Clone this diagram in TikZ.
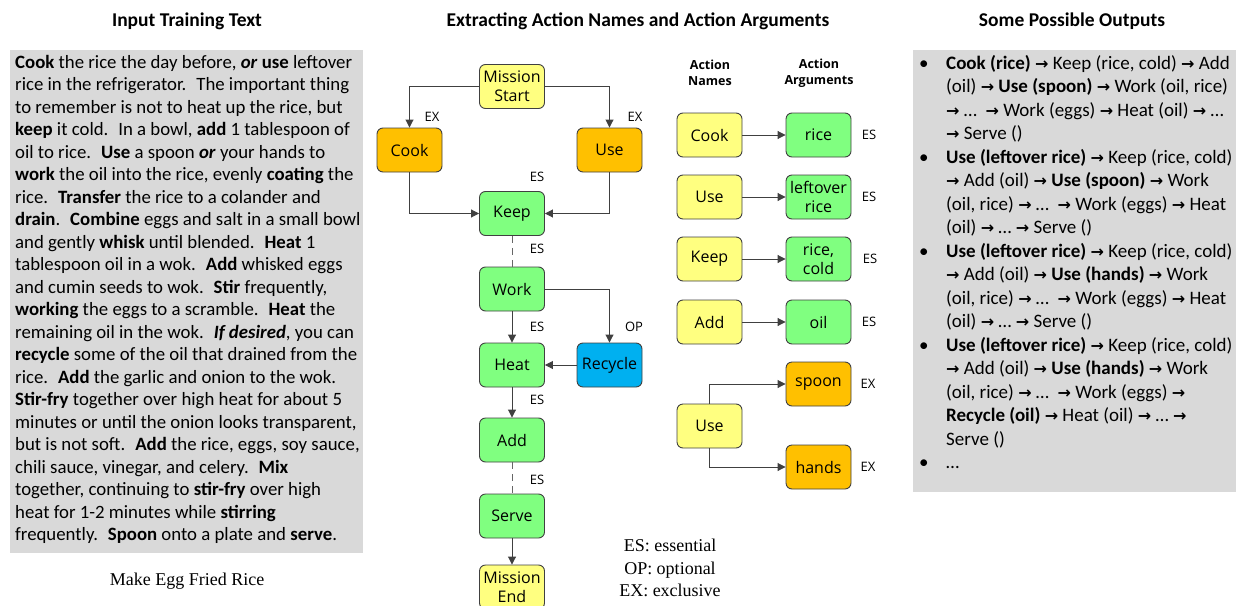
\documentclass[tikz,border=0pt]{standalone}
\usepackage{fontspec}
\setmainfont{Liberation Serif}
\newfontfamily\calfont{Carlito}
\newfontfamily\boxfont{Open Sans}
\newfontfamily\arrowfont{DejaVu Sans}
\usetikzlibrary{arrows.meta}
\newcommand{\rar}{{\arrowfont\bfseries\fontsize{16}{16}\selectfont →}}
\newcommand{\bul}{\makebox[28pt][l]{\hspace*{1pt}•}}
\newcommand{\ind}{\hspace*{28pt}}
\definecolor{boxyellow}{RGB}{255,255,128}
\definecolor{boxorange}{RGB}{255,192,0}
\definecolor{boxgreen}{RGB}{128,255,128}
\definecolor{boxblue}{RGB}{0,176,240}
\definecolor{panelgray}{RGB}{217,217,217}
\definecolor{edgegray}{RGB}{64,64,64}
\tikzset{
  actbox/.style={draw=edgegray, line width=0.9pt, rounded corners=6pt, minimum width=65pt, minimum height=44pt, inner sep=1pt, align=center, font=\boxfont\fontsize{16}{19}\selectfont},
  ybox/.style={actbox, fill=boxyellow},
  obox/.style={actbox, fill=boxorange},
  gbox/.style={actbox, fill=boxgreen},
  bbox/.style={actbox, fill=boxblue},
  tag/.style={inner sep=0.75pt, font=\boxfont\fontsize{13}{15}\selectfont},
  title/.style={font=\calfont\bfseries\fontsize{19.5}{22}\selectfont},
  flow/.style={draw=edgegray, line width=0.9pt, -{Triangle[length=8pt,width=8pt]}},
  dashflow/.style={draw=edgegray!80, line width=0.9pt, dash pattern=on 7pt off 5pt},
}
\begin{document}
\begin{tikzpicture}[x=1pt,y=-1pt]
\useasboundingbox (0,0) rectangle (1236,605);
\clip (0,0) rectangle (1236,605);

% Column titles
\node (ttlInput) at (187,21) [title] {Input Training Text};
\node (ttlExtract) at (638,21) [title] {Extracting Action Names and Action Arguments};
\node (ttlOutput) at (1072,21) [title] {Some Possible Outputs};

%Shape: Rectangle (input text panel)
\fill [panelgray] (10,50) rectangle (363,553);
% Text Node
\node (inputText) at (15,55) [anchor=north west, inner sep=0pt, align=left, font=\calfont\fontsize{18.8}{22.5}\selectfont] {%
\textbf{Cook} the rice the day before, \textbf{\textit{or}} \textbf{use} leftover\\
rice in the refrigerator. \ The important thing\\
to remember is not to heat up the rice, but\\
\textbf{keep} it cold. \ In a bowl, \textbf{add} 1 tablespoon of\\
oil to rice. \ \textbf{Use} a spoon \textbf{\textit{or}} your hands to\\
\textbf{work} the oil into the rice, evenly \textbf{coating} the\\
rice. \ \textbf{Transfer} the rice to a colander and\\
\textbf{drain}. \ \textbf{Combine} eggs and salt in a small bowl\\
and gently \textbf{whisk} until blended. \ \textbf{Heat} 1\\
tablespoon oil in a wok. \ \textbf{Add} whisked eggs\\
and cumin seeds to wok. \ \textbf{Stir} frequently,\\
\textbf{working} the eggs to a scramble. \ \textbf{Heat} the\\
remaining oil in the wok. \ \textbf{\textit{If desired}}, you can\\
\textbf{recycle} some of the oil that drained from the\\
rice. \ \textbf{Add} the garlic and onion to the wok.\\
\textbf{Stir-fry} together over high heat for about 5\\
minutes or until the onion looks transparent,\\
but is not soft. \ \textbf{Add} the rice, eggs, soy sauce,\\
chili sauce, vinegar, and celery. \ \textbf{Mix}\\
together, continuing to \textbf{stir-fry} over high\\
heat for 1-2 minutes while \textbf{stirring}\\
frequently. \ \textbf{Spoon} onto a plate and \textbf{serve}.};
% Text Node
\node (caption) at (187,581) [font=\fontsize{18}{20}\selectfont] {Make Egg Fried Rice};

% Flow of actions
\node (mstart) at (512,86.5) [ybox] {Mission\\Start};
\node (cook) at (409.5,150) [obox] {Cook};
\node (use) at (609.5,150) [obox] {Use};
\node (keep) at (512,213.5) [gbox] {Keep};
\node (work) at (512,289) [gbox] {Work};
\node (heat) at (512,365) [gbox] {Heat};
\node (recycle) at (609.5,365) [bbox] {Recycle};
\node (add) at (512,440) [gbox] {Add};
\node (serve) at (512,516) [gbox] {Serve};
\node (mend) at (512,587) [ybox] {Mission\\End};

\draw [flow] (mstart.west) -| (cook.north);
\draw [flow] (mstart.east) -| (use.north);
\draw [flow] (cook.south) |- (keep.west);
\draw [flow] (use.south) |- (keep.east);
\draw [dashflow] (keep.south) -- (work.north);
\draw [flow] (work.south) -- (heat.north);
\draw [flow] (work.east) -| (recycle.north);
\draw [flow] (recycle.west) -- (heat.east);
\draw [flow] (heat.south) -- (add.north);
\draw [dashflow] (add.south) -- (serve.north);
\draw [flow] (serve.south) -- (mend.north);

% Edge tags
\node (tagCook) at (432,117) [tag] {EX};
\node (tagUse) at (635,117) [tag] {EX};
\node (tagKeep) at (537,177) [tag] {ES};
\node (tagWork) at (537,249) [tag] {ES};
\node (tagHeat) at (537,327) [tag] {ES};
\node (tagRecycle) at (634,327) [tag] {OP};
\node (tagAdd) at (537,400) [tag] {ES};
\node (tagServe) at (537,480) [tag] {ES};

% Legend
\node (legend) at (670,568) [align=center, font=\fontsize{18}{22.3}\selectfont] {ES: essential\\OP: optional\\EX: exclusive};

% Action names and arguments
\node (hdNames) at (710,73) [align=center, font=\boxfont\bfseries\fontsize{12.5}{16}\selectfont] {Action\\Names};
\node (hdArgs) at (819,73) [align=center, font=\boxfont\bfseries\fontsize{12.5}{16}\selectfont] {Action\\Arguments};

\node (nCook) at (709.5,135) [ybox] {Cook};
\node (nUse) at (709.5,197) [ybox] {Use};
\node (nKeep) at (709.5,259) [ybox] {Keep};
\node (nAdd) at (709.5,322) [ybox] {Add};
\node (nUseB) at (709.5,426) [ybox] {Use};
\node (aRice) at (818.5,135) [gbox] {rice};
\node (aLeftover) at (818.5,197) [gbox] {leftover\\rice};
\node (aRiceCold) at (818.5,259) [gbox] {rice,\\cold};
\node (aOil) at (818.5,322) [gbox] {oil};
\node (aSpoon) at (818.5,384) [obox] {spoon};
\node (aHands) at (818.5,467) [obox] {hands};

\draw [flow] (nCook.east) -- (aRice.west);
\draw [flow] (nUse.east) -- (aLeftover.west);
\draw [flow] (nKeep.east) -- (aRiceCold.west);
\draw [flow] (nAdd.east) -- (aOil.west);
\draw [flow] (nUseB.north) |- (aSpoon.west);
\draw [flow] (nUseB.south) |- (aHands.west);

\node (tagRice) at (869,135) [tag] {ES};
\node (tagLeftover) at (869,197) [tag] {ES};
\node (tagRiceCold) at (870,259) [tag] {ES};
\node (tagOil) at (869,322) [tag] {ES};
\node (tagSpoon) at (868,384) [tag] {EX};
\node (tagHands) at (868,467) [tag] {EX};

%Shape: Rectangle (outputs panel)
\fill [panelgray] (913,50) rectangle (1240,492);
% Text Node
\node (outputText) at (918,55) [anchor=north west, inner sep=0pt, align=left, font=\calfont\fontsize{19}{23.5}\selectfont] {%
\bul\textbf{Cook (rice)} \rar{} Keep (rice, cold) \rar{} Add\\
\ind(oil) \rar{} \textbf{Use (spoon)} \rar{} Work (oil, rice)\\
\ind\rar{} … \ \rar{} Work (eggs) \rar{} Heat (oil) \rar{} …\\
\ind\rar{} Serve ()\\
\bul\textbf{Use (leftover rice)} \rar{} Keep (rice, cold)\\
\ind\rar{} Add (oil) \rar{} \textbf{Use (spoon)} \rar{} Work\\
\ind(oil, rice) \rar{} … \ \rar{} Work (eggs) \rar{} Heat\\
\ind(oil) \rar{} … \rar{} Serve ()\\
\bul\textbf{Use (leftover rice)} \rar{} Keep (rice, cold)\\
\ind\rar{} Add (oil) \rar{} \textbf{Use (hands)} \rar{} Work\\
\ind(oil, rice) \rar{} … \ \rar{} Work (eggs) \rar{} Heat\\
\ind(oil) \rar{} … \rar{} Serve ()\\
\bul\textbf{Use (leftover rice)} \rar{} Keep (rice, cold)\\
\ind\rar{} Add (oil) \rar{} \textbf{Use (hands)} \rar{} Work\\
\ind(oil, rice) \rar{} … \ \rar{} Work (eggs) \rar\\
\ind\textbf{Recycle (oil)} \rar{} Heat (oil) \rar{} … \rar\\
\ind Serve ()\\
\bul…};

\end{tikzpicture}
\end{document}
